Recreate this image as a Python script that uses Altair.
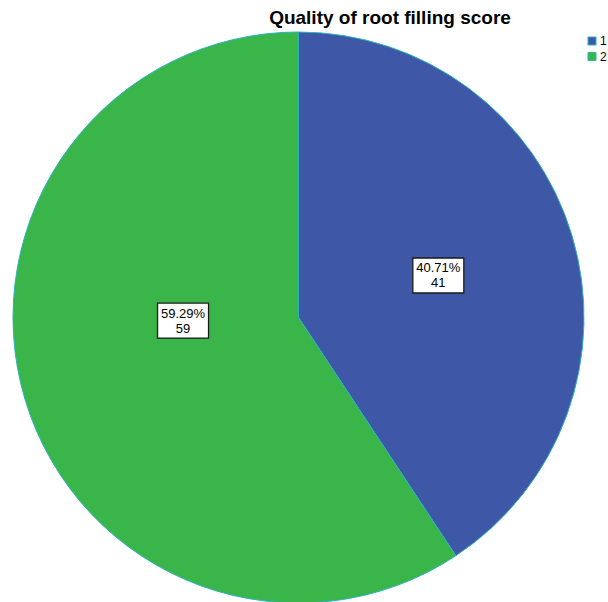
import altair as alt
import pandas as pd

# ---- data ----
categories = ["1", "2"]
percents = [40.71, 59.29]
counts = [41, 59]
title_text = "Quality of root filling score"

# ---- styles ----
BLUE = "#3e58a7"
GREEN = "#3ab54a"
TEAL = "#2bb3c0"
CX, CY, R = 298.5, 317.5, 285.5
FONT = "Liberation Sans"

df = pd.DataFrame({"cat": categories, "pct": percents, "cnt": counts})

base = alt.Chart(df)

pie = base.mark_arc(stroke=TEAL, strokeWidth=1).encode(
    theta=alt.Theta("pct:Q", stack=True),
    order=alt.Order("cat:N"),
    color=alt.Color(
        "cat:N",
        scale=alt.Scale(domain=categories, range=[BLUE, GREEN]),
        legend=alt.Legend(
            orient="none", legendX=586, legendY=35, title=None,
            symbolType="square", symbolSize=64, symbolStrokeColor=TEAL,
            symbolStrokeWidth=1, labelFontSize=12, labelFont=FONT,
            labelColor="#000000", rowPadding=3.5, labelOffset=2, symbolOpacity=1,
        ),
    ),
    x=alt.value(CX), y=alt.value(CY), radius=alt.value(R),
)

labels_base = base.transform_window(
    cum="sum(pct)", sort=[alt.SortField("cat")], frame=[None, 0]
).transform_calculate(
    mid=f"(datum.cum - datum.pct/2)/100*2*PI + (datum.cat == '2' ? 0.265 : 0)",
    rr="datum.cat == '2' ? 115.5 : 146",
).transform_calculate(
    bx=f"{CX} + datum.rr*sin(datum.mid)",
    by=f"{CY} - datum.rr*cos(datum.mid)",
).transform_calculate(
    x1="datum.bx - 25.5", x2="datum.bx + 25.5",
    y1="datum.by - 17.5", y2="datum.by + 17.5",
    label="format(datum.pct, '.2f') + '%\\n' + datum.cnt",
)

boxes = labels_base.mark_rect(fill="white", stroke="#1a1a1a", strokeWidth=1.3).encode(
    x=alt.X("x1:Q", scale=None, axis=None),
    x2="x2:Q",
    y=alt.Y("y1:Q", scale=None, axis=None),
    y2="y2:Q",
)

texts = labels_base.mark_text(
    lineBreak="\n", fontSize=13, lineHeight=15, font=FONT,
    color="#000000", align="center", baseline="middle", dy=-7,
).encode(
    x=alt.X("bx:Q", scale=None, axis=None),
    y=alt.Y("by:Q", scale=None, axis=None),
    text="label:N",
)

title = alt.Chart(pd.DataFrame({"t": [title_text]})).mark_text(
    fontSize=19, fontWeight="bold", font=FONT, color="#000000",
    align="center", baseline="alphabetic",
).encode(x=alt.value(390), y=alt.value(23.5), text="t:N")

chart = alt.layer(pie, boxes, texts, title).properties(
    width=608, height=602,
    autosize=alt.AutoSizeParams(type="none"),
    padding=0,
).configure_view(stroke=None).resolve_scale(x="independent", y="independent")

chart.save("out.html", embed_options={"renderer": "svg", "actions": False})
